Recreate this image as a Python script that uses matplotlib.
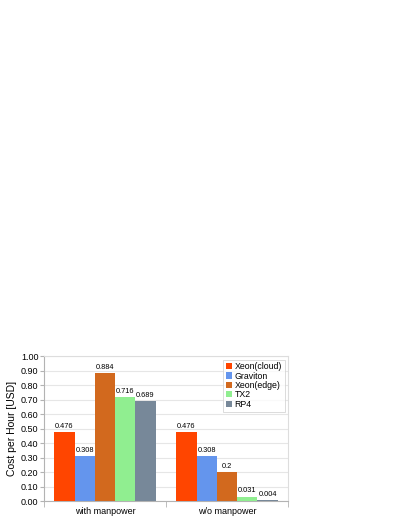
import numpy as np
import matplotlib
matplotlib.use("Agg")
from matplotlib import pyplot as plt

categories = ["with manpower", "w/o manpower"]
series_names = ["Xeon(cloud)", "Graviton", "Xeon(edge)", "TX2", "RP4"]
xeon_cloud = [0.476, 0.476]
graviton = [0.308, 0.308]
xeon_edge = [0.884, 0.2]
tx2 = [0.716, 0.031]
rp4 = [0.689, 0.004]
series_values = [xeon_cloud, graviton, xeon_edge, tx2, rp4]
colors = ["#FF4500", "#6495ED", "#D2691E", "#90EE90", "#778899"]

plt.rcParams['font.family'] = ['Liberation Sans', 'DejaVu Sans']

fig = plt.figure(figsize=(3.99, 5.16), dpi=100)
ax = fig.add_axes([0.110, 0.029, 0.612, 0.281])

x = np.arange(len(categories))
bar_w = 0.166
for i, (name, vals, c) in enumerate(zip(series_names, series_values, colors)):
    pos = x + (i - 2) * bar_w
    bars = ax.bar(pos, vals, bar_w, color=c, label=name, zorder=3)
    for b, v in zip(bars, vals):
        ax.text(b.get_x() + b.get_width() / 2, v + 0.015, f"{v:g}",
                ha="center", va="bottom", fontsize=5.3, zorder=4)

ax.set_xlim(-0.5, 1.5)
ax.set_ylim(0, 1.0)
ax.set_yticks(np.arange(0, 1.01, 0.1))
ax.set_yticklabels([f"{t:.2f}" for t in np.arange(0, 1.01, 0.1)], fontsize=6.5)
ax.set_xticks(x)
ax.set_xticklabels(categories, fontsize=6.5)
ax.set_xticks([-0.5, 0.5, 1.5], minor=True)
ax.tick_params(axis="x", which="major", length=0, pad=4)
ax.tick_params(axis="x", which="minor", length=4, color="#b3b3b3")
ax.tick_params(axis="y", length=3, color="#b3b3b3", pad=1)
ax.set_ylabel("Cost per Hour [USD]", fontsize=7.5, labelpad=3)
ax.grid(axis="y", color="#e6e6e6", linewidth=0.8, zorder=0)
for s in ax.spines.values():
    s.set_color("#dddddd")
    s.set_linewidth(0.8)
ax.spines["left"].set_color("#b3b3b3")
ax.spines["bottom"].set_color("#b3b3b3")

leg = ax.legend(loc="upper right", fontsize=6.3, frameon=True, fancybox=False,
                handlelength=0.7, handleheight=0.7, handletextpad=0.3,
                labelspacing=0.05, borderpad=0.3, borderaxespad=0.4)
leg.get_frame().set_edgecolor("#cccccc")
leg.get_frame().set_linewidth(0.6)

fig.savefig("out.png", dpi=100)
